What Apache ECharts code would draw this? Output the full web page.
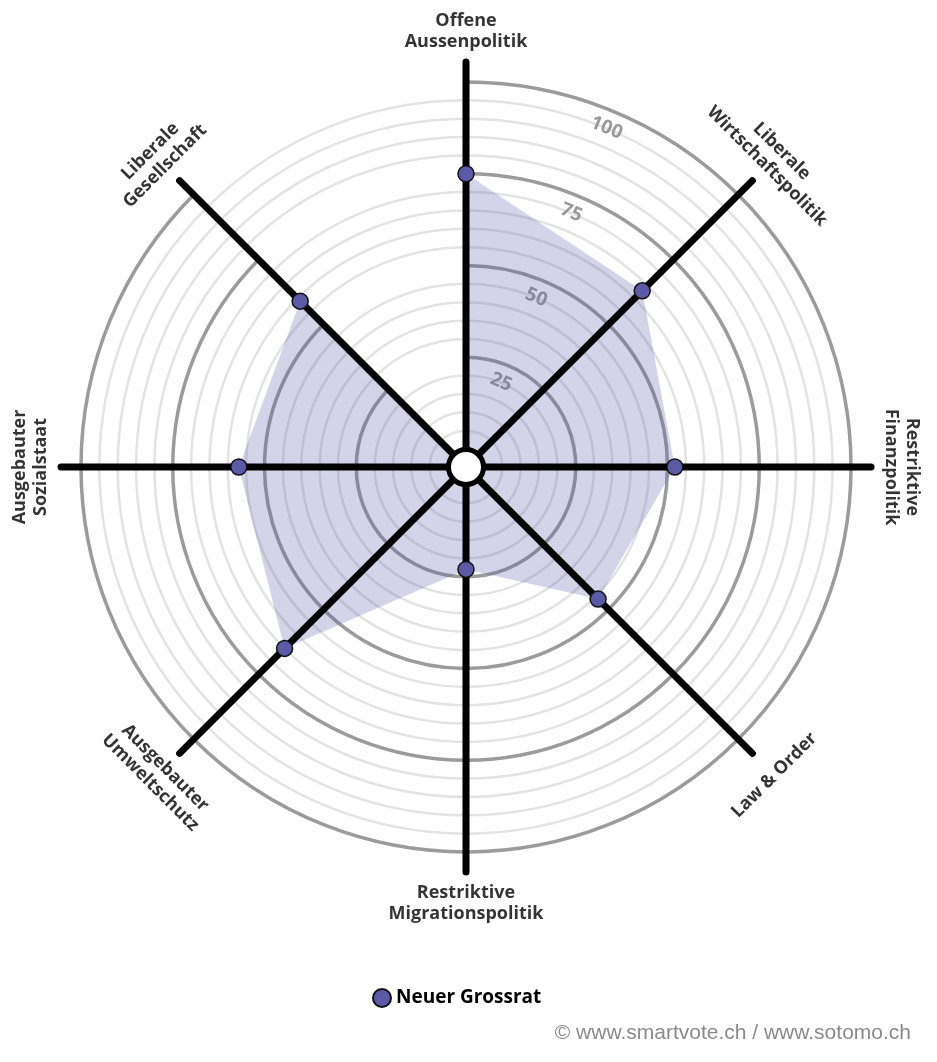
<!DOCTYPE html>
<html><head><meta charset="utf-8">
<script src="https://cdn.jsdelivr.net/npm/echarts@6/dist/echarts.min.js"></script>
<style>html,body{margin:0;padding:0;background:#fff}#c{width:937px;height:1062px}</style>
</head><body><div id="c"></div>
<script>
const categories = [
  'Offene\nAussenpolitik',
  'Liberale\nWirtschaftspolitik',
  'Restriktive\nFinanzpolitik',
  'Law & Order',
  'Restriktive\nMigrationspolitik',
  'Ausgebauter\nUmweltschutz',
  'Ausgebauter\nSozialstaat',
  'Liberale\nGesellschaft'
];
const values = [75, 63, 52, 46, 23, 65, 57, 59];
const scaleTicks = [25, 50, 75, 100];
const seriesName = 'Neuer Grossrat';
const sourceNote = '\u00A9 www.smartvote.ch / www.sotomo.ch';

const CENTER = [466, 467];
const FONT = '"Open Sans", Lato, sans-serif';
const n = categories.length;

function labelRotate(i) {
  let t = 90 - i * 360 / n;
  t = ((t % 360) + 360) % 360;
  if (t > 180) t -= 360;
  return t >= 0 ? t - 90 : t + 90;
}

const closed = values.map((v, i) => [v, categories[i]]);
closed.push([values[0], categories[0]]);

const chart = echarts.init(document.getElementById('c'), null, { renderer: 'canvas' });
chart.setOption({
  animation: false,
  backgroundColor: '#fff',
  title: {
    text: sourceNote, right: 21, bottom: 13,
    textStyle: { color: '#8a8a8a', fontSize: 21, fontWeight: 'normal', fontFamily: '"Liberation Sans", Arial, sans-serif' }
  },
  legend: {
    data: [seriesName], left: 367, top: 983, icon: 'circle', itemWidth: 18, itemHeight: 18, itemGap: 6,
    selectedMode: false,
    textStyle: { fontSize: 19, fontWeight: 'bold', color: '#000', fontFamily: FONT }
  },
  polar: [
    { center: CENTER, radius: [18, 385] },
    { center: CENTER, radius: [0, 367] },
    { center: CENTER, radius: [0, 405] },
    { center: CENTER, radius: [0, 436] }
  ],
  angleAxis: [
    { polarIndex: 0, type: 'category', data: categories, boundaryGap: false, startAngle: 90,
      axisLine: { show: false }, axisTick: { show: false }, axisLabel: { show: false }, splitLine: { show: false } },
    { polarIndex: 1, type: 'value', min: 0, max: 360, startAngle: 67.5, show: false },
    { polarIndex: 2, type: 'category', data: categories, boundaryGap: false, startAngle: 90, z: 3,
      axisLine: { show: false }, axisTick: { show: false }, axisLabel: { show: false },
      splitLine: { show: true, lineStyle: { color: '#000', width: 7, cap: 'round' } } },
    { polarIndex: 3, type: 'category', data: categories, boundaryGap: false, startAngle: 90, show: false }
  ],
  radiusAxis: [
    { polarIndex: 0, type: 'value', min: 0, max: 100, interval: 25,
      axisLine: { show: false }, axisTick: { show: false }, axisLabel: { show: false },
      splitLine: { show: true, lineStyle: { color: '#9b9b9b', width: 3.5 } },
      minorTick: { show: false, splitNumber: 5 },
      minorSplitLine: { show: true, lineStyle: { color: '#e3e3e3', width: 2.5 } } },
    { polarIndex: 1, type: 'value', min: 0, max: 100, interval: 25,
      axisLine: { show: false }, axisTick: { show: false }, splitLine: { show: false },
      axisLabel: { show: true, margin: 0, rotate: -22.5, align: 'center', verticalAlign: 'middle',
        color: '#999', fontSize: 19, fontWeight: 'bold', fontFamily: FONT,
        formatter: v => (scaleTicks.indexOf(v) >= 0 ? String(v) : '') } },
    { polarIndex: 2, type: 'value', min: 0, max: 1, show: false },
    { polarIndex: 3, type: 'value', min: 0, max: 100, show: false }
  ],
  series: [
    { name: seriesName, type: 'scatter', coordinateSystem: 'polar', polarIndex: 0, z: 5,
      data: values.map((v, i) => [v, categories[i]]), symbolSize: 16,
      itemStyle: { color: '#5a5aa6', borderColor: '#111', borderWidth: 1.5, opacity: 1 } },
    { name: 'area', type: 'line', coordinateSystem: 'polar', polarIndex: 0, z: 2, silent: true,
      data: closed, symbol: 'none', showSymbol: false, lineStyle: { width: 0 },
      areaStyle: { color: 'rgba(90,90,165,0.26)', opacity: 1 } },
    { name: 'labels', type: 'scatter', coordinateSystem: 'polar', polarIndex: 3, z: 6, silent: true,
      data: categories.map((c, i) => ({ value: [100, c], label: { rotate: labelRotate(i) } })),
      symbolSize: 1, itemStyle: { color: 'rgba(0,0,0,0)' },
      label: { show: true, position: 'inside', formatter: p => p.value[1],
        color: '#000', fontSize: 18, fontWeight: 'bold', fontFamily: FONT, lineHeight: 21, align: 'center' } }
  ],
  graphic: [
    { type: 'circle', z: 100, shape: { cx: CENTER[0], cy: CENTER[1], r: 17.5 },
      style: { fill: '#fff', stroke: '#000', lineWidth: 5 } }
  ]
});
</script>
</body></html>
